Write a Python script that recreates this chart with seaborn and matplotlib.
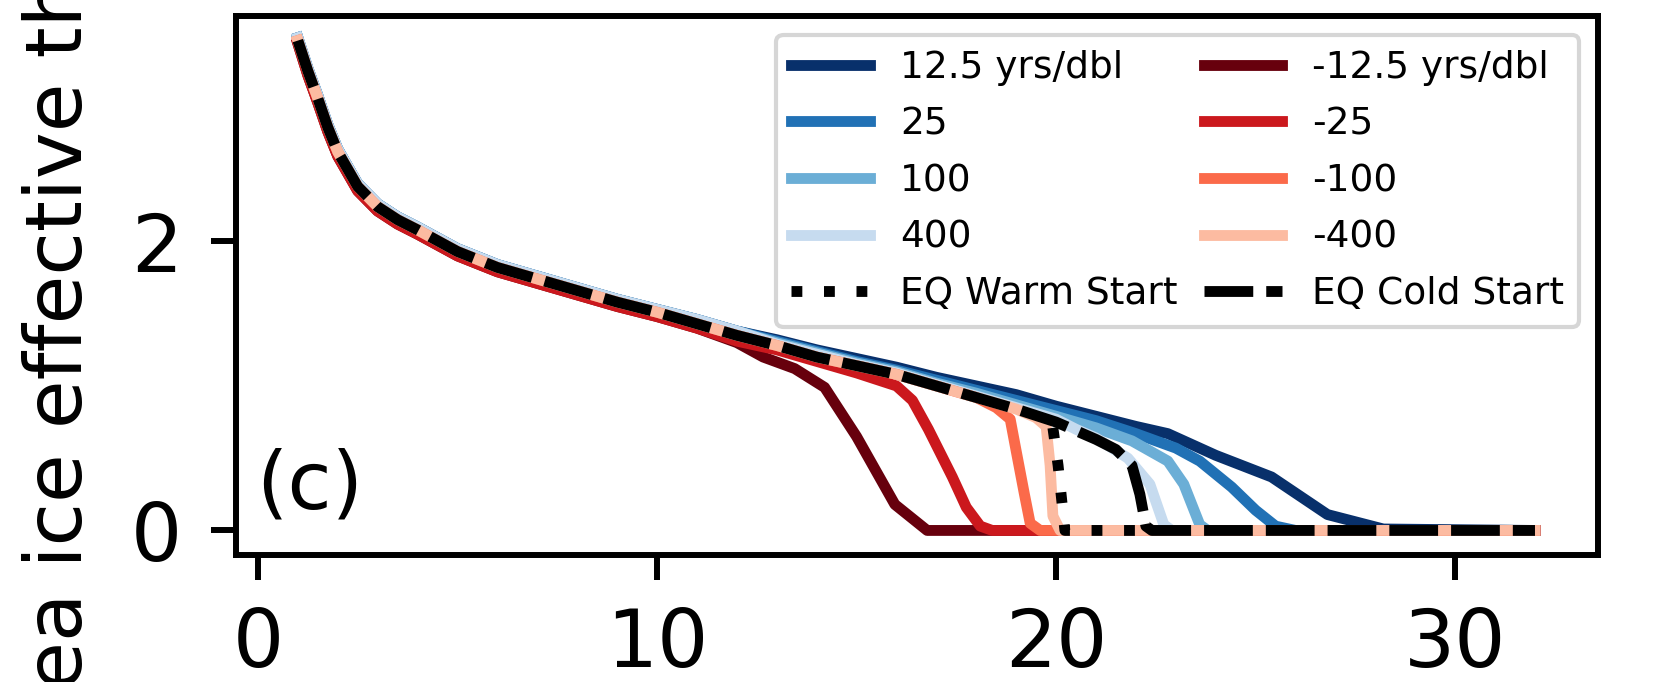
import matplotlib
matplotlib.use("Agg")
import numpy as np
import pandas as pd
import matplotlib.pyplot as plt
import seaborn as sns

# ------------------------------------------------------------
# Data
# ------------------------------------------------------------
trunk_x = [1, 1.25, 1.5, 1.75, 2, 2.5, 3, 3.5, 4, 5, 6, 7, 8, 9, 10, 11, 12,
           13, 14, 15, 16, 17, 18]
# EQ / central branch
trunk_y = [3.39, 3.18, 2.99, 2.79, 2.62, 2.38, 2.24, 2.15, 2.08, 1.93, 1.82,
           1.74, 1.66, 1.58, 1.51, 1.43, 1.35, 1.28, 1.20, 1.14, 1.08, 1.00, 0.92]
# warming runs sit a touch above, cooling runs a touch below
upper_y = [3.41, 3.20, 3.01, 2.81, 2.64, 2.40, 2.26, 2.17, 2.10, 1.95, 1.84,
           1.76, 1.68, 1.60, 1.53, 1.46, 1.38, 1.32, 1.25, 1.19, 1.13, 1.06, 1.00]
lower_y = [3.37, 3.15, 2.96, 2.76, 2.59, 2.35, 2.21, 2.12, 2.05, 1.90, 1.79,
           1.71, 1.63, 1.55, 1.48, 1.40, 1.31]

tail_b12_x = [19, 20, 21, 22, 22.8, 24.0, 25.4, 26.8, 28.2, 32]
tail_b12_y = [0.94, 0.86, 0.79, 0.72, 0.67, 0.52, 0.37, 0.11, 0.01, 0.0]
tail_b25_x = [13, 14, 15, 16, 17, 18, 19, 20, 21, 22, 23, 23.6, 24.4, 25.0, 25.5, 26, 32]
tail_b25_y = [1.31, 1.24, 1.17, 1.11, 1.04, 0.97, 0.90, 0.83, 0.76, 0.67, 0.57,
              0.48, 0.30, 0.14, 0.03, 0.0, 0.0]
tail_b100_x = [13, 14, 15, 16, 17, 18, 19, 20, 21, 21.9, 22.8, 23.2, 23.6, 23.8, 32]
tail_b100_y = [1.30, 1.23, 1.16, 1.10, 1.02, 0.95, 0.87, 0.79, 0.71, 0.62, 0.48,
               0.32, 0.04, 0.0, 0.0]
tail_b400_x = [13, 14, 15, 16, 17, 18, 19, 20, 20.5, 21, 21.8, 22.35, 22.7, 22.9, 32]
tail_b400_y = [1.29, 1.22, 1.15, 1.09, 1.01, 0.93, 0.85, 0.77, 0.70, 0.64, 0.50,
               0.32, 0.04, 0.0, 0.0]

tail_r12_x = [12, 12.66, 13.45, 14.2, 15.0, 15.96, 16.77, 32]
tail_r12_y = [1.30, 1.20, 1.12, 0.99, 0.65, 0.18, 0.0, 0.0]
tail_r25_x = [13, 14, 15, 16.0, 16.4, 16.8, 17.4, 17.75, 18.1, 18.4, 32]
tail_r25_y = [1.25, 1.17, 1.09, 1.00, 0.90, 0.70, 0.37, 0.16, 0.03, 0.0, 0.0]
tail_r100_x = [18.5, 18.85, 19.0, 19.2, 19.35, 19.6, 32]
tail_r100_y = [0.85, 0.77, 0.55, 0.26, 0.05, 0.0, 0.0]
tail_r400_x = [19.0, 19.5, 19.75, 19.85, 19.92, 20.1, 32]
tail_r400_y = [0.84, 0.78, 0.72, 0.45, 0.10, 0.0, 0.0]

warm_x = [19.92, 20.05, 20.22, 22.4]
warm_y = [0.71, 0.45, 0.0, 0.0]
tail_cold_x = [19, 20, 20.5, 21, 21.5, 21.9, 22.1, 22.25, 22.4, 32]
tail_cold_y = [0.84, 0.75, 0.69, 0.63, 0.56, 0.45, 0.25, 0.03, 0.0, 0.0]

labels = ["12.5 yrs/dbl", "25", "100", "400",
          "-12.5 yrs/dbl", "-25", "-100", "-400",
          "EQ Warm Start", "EQ Cold Start"]
colors = ["#08306b", "#2171b5", "#6baed6", "#c6dbef",
          "#67000d", "#cb181d", "#fb6a4a", "#fcbba1",
          "black", "black"]

n12 = trunk_x.index(12) + 1
n11 = trunk_x.index(11) + 1
series = {
    labels[0]: (trunk_x + tail_b12_x, upper_y + tail_b12_y),
    labels[1]: (trunk_x[:n12] + tail_b25_x, upper_y[:n12] + tail_b25_y),
    labels[2]: (trunk_x[:n12] + tail_b100_x, upper_y[:n12] + tail_b100_y),
    labels[3]: (trunk_x[:n12] + tail_b400_x, upper_y[:n12] + tail_b400_y),
    labels[4]: (trunk_x[:n11] + tail_r12_x, lower_y[:n11] + tail_r12_y),
    labels[5]: (trunk_x[:n12] + tail_r25_x, lower_y[:n12] + tail_r25_y),
    labels[6]: (trunk_x + tail_r100_x, trunk_y + tail_r100_y),
    labels[7]: (trunk_x + tail_r400_x, trunk_y + tail_r400_y),
    labels[8]: (warm_x, warm_y),
    labels[9]: (trunk_x + tail_cold_x, trunk_y + tail_cold_y),
}

df = pd.concat(
    [pd.DataFrame({"x": xs, "y": ys, "run": name}) for name, (xs, ys) in series.items()],
    ignore_index=True,
)

# ------------------------------------------------------------
# Plot
# ------------------------------------------------------------
BIG = 58
LW = 7.8

fig = plt.figure(figsize=(16.56, 6.82), dpi=100)
ax = fig.add_axes([0.1425, 0.1862, 0.8225, 0.7903])

styles = ["-"] * 8 + [(0, (1, 2)), (0, (4.5, 1.2))]
for name, col, ls in zip(labels, colors, styles):
    sns.lineplot(data=df[df["run"] == name], x="x", y="y", color=col,
                 lw=LW, linestyle=ls, ax=ax, label=name, legend=False)

ax.set_xticks([0, 10, 20, 30])
ax.set_yticks([0, 2])
ax.set_xlim(-0.55, 33.58)
ax.set_ylim(-0.17, 3.56)
ax.set_xlabel("")
ax.set_ylabel("")

for sp in ax.spines.values():
    sp.set_linewidth(4.3)
ax.tick_params(axis="both", labelsize=BIG, length=18, width=4.3)
ax.tick_params(axis="x", pad=19)
ax.tick_params(axis="y", pad=21)

ax.text(0.015, 0.087, "(c)", transform=ax.transAxes, fontsize=BIG, va="baseline")

# y label of the full figure, only partly inside this crop
fig.text(0.0495, 0.809, "Sea ice effective thickness (m)", fontsize=57,
         rotation=90, rotation_mode="anchor", ha="center", va="baseline")

handles = {ln.get_label(): ln for ln in ax.get_lines()}
order = [labels[0], labels[1], labels[2], labels[3], labels[8],
         labels[4], labels[5], labels[6], labels[7], labels[9]]
leg = ax.legend([handles[k] for k in order], order, loc="upper right", ncol=2,
                fontsize=27, columnspacing=0.7, handlelength=2.1,
                labelspacing=0.55)
leg.get_frame().set_linewidth(3)

fig.savefig("out.png", dpi=100)
